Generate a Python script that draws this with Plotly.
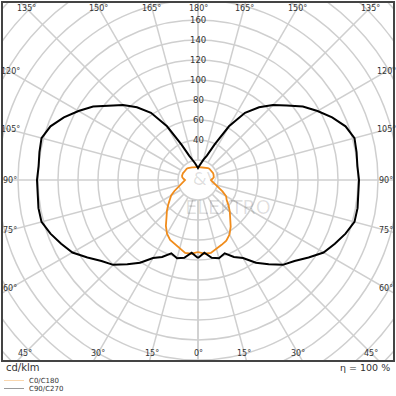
import numpy as np
import plotly.graph_objects as go

# ---------------- data (cd/klm) ----------------
gamma = [0, 5, 10, 15, 20, 25, 30, 35, 40, 45, 50, 55, 60, 65, 70, 75, 80, 85, 90,
         95, 100, 105, 110, 115, 120, 125, 130, 135, 140, 145, 150, 155, 160, 165, 170, 175, 180]

c90 = [78, 73, 79, 81, 78, 85, 90, 101, 110, 120, 126, 135, 145, 151, 157, 162, 162, 161, 161,
       160, 161, 162, 157, 148, 138, 128, 116, 106, 95, 82, 62, 39, 26, 21, 17, 14, 12]
c270 = [78, 73, 79, 81, 78, 85, 90, 101, 110, 120, 126, 135, 145, 151, 157, 162, 162, 161, 161,
        160, 161, 162, 157, 148, 138, 128, 116, 106, 95, 82, 62, 39, 26, 21, 17, 14, 12]

c0 = [72, 74, 74, 70.5, 68.5, 66, 62, 56, 49, 44, 39, 34, 31, 26, 21, 18, 16, 14, 13,
      14.5, 16, 16.5, 16.5, 16.5, 16, 16, 16, 16, 15.5, 15, 14.5, 14, 13.5, 13, 13, 13, 13]
c180 = [72, 74, 74, 71, 69, 67, 63, 57, 50, 45, 40, 35, 32.5, 27, 22, 18.5, 16, 14, 13,
        14.5, 16, 16.5, 16.5, 16.5, 16, 16, 16, 16, 15.5, 15, 14.5, 14, 13.5, 13, 13, 13, 13]

ring_values = list(range(20, 300, 20))
ring_labels = [40, 60, 80, 100, 120, 140, 160]
angle_ticks = list(range(0, 181, 15))

series_names = ["C0/C180", "C90/C270"]
unit_label = "cd/klm"
eta_label = "η = 100 %"
watermark = ["&V", "ELEKTRO"]

ORANGE = "#f08c1c"
GRID = "#cfcfcf"
TXT = "#333333"


def curve_xy(left_vals, right_vals):
    g = np.radians(np.array(gamma, dtype=float))
    lv = np.array(left_vals, dtype=float)
    rv = np.array(right_vals, dtype=float)
    xl, yl = -lv * np.sin(g), -lv * np.cos(g)
    xr, yr = rv * np.sin(g), -rv * np.cos(g)
    x = np.concatenate([xl, xr[::-1]])
    y = np.concatenate([yl, yr[::-1]])
    return x, y


fig = go.Figure()

# watermark (faint)
fig.add_trace(go.Scatter(x=[8, 30], y=[0, -29], mode="text", text=watermark,
                         textfont=dict(family="DejaVu Sans", size=[18, 19], color="rgba(0,0,0,0.13)"),
                         hoverinfo="skip", showlegend=False))

xo, yo = curve_xy(c0, c180)
fig.add_trace(go.Scatter(x=xo, y=yo, mode="lines", name=series_names[0],
                         line=dict(color=ORANGE, width=1.8), showlegend=False))
xb, yb = curve_xy(c90, c270)
fig.add_trace(go.Scatter(x=xb, y=yb, mode="lines", name=series_names[1],
                         line=dict(color="black", width=2), showlegend=False))

shapes = []
# rings
for r in ring_values:
    shapes.append(dict(type="circle", xref="x", yref="y", x0=-r, x1=r, y0=-r, y1=r,
                       line=dict(color=GRID, width=1.5), layer="below"))
# radial lines
r_in, r_out = ring_values[0], 400
for a in angle_ticks:
    t = np.radians(a)
    for s in (-1, 1):
        dx, dy = s * np.sin(t), -np.cos(t)
        shapes.append(dict(type="line", xref="x", yref="y",
                           x0=r_in * dx, y0=r_in * dy, x1=r_out * dx, y1=r_out * dy,
                           line=dict(color=GRID, width=1.5), layer="below"))
# frame
shapes.append(dict(type="rect", xref="paper", yref="paper", x0=0, x1=1, y0=0, y1=1,
                   line=dict(color="#444444", width=2)))

W, H = 396, 396
ML, MR, MT, MB = 2, 2, 2, 35
pw, ph = W - ML - MR, H - MT - MB


def px(sx):
    return (sx - ML) / pw


def py(sy):
    return (H - MB - sy) / ph


# legend lines (below plot)
shapes.append(dict(type="line", xref="paper", yref="paper", x0=px(4), x1=px(24), y0=py(380.5), y1=py(380.5),
                   line=dict(color="#f9d6ad", width=1)))
shapes.append(dict(type="line", xref="paper", yref="paper", x0=px(4), x1=px(24), y0=py(388.5), y1=py(388.5),
                   line=dict(color="#9a9a9a", width=1)))

ann = []
# radial value labels
for v in ring_labels:
    ann.append(dict(x=0, y=v, xref="x", yref="y", text=str(v), showarrow=False,
                    xanchor="center", yanchor="middle",
                    font=dict(family="DejaVu Sans", size=8.5, color=TXT)))
# angle labels along the frame
XL, YT, YB = 188, 172, 173
for a in angle_ticks:
    t = np.radians(a)
    sides = (-1, 1) if 0 < a < 180 else (1,)
    for s in sides:
        dx, dy = s * np.sin(t), -np.cos(t)
        cands = []
        if abs(dx) > 1e-9:
            cands.append(XL / abs(dx))
        if dy > 1e-9:
            cands.append(YT / dy)
        if dy < -1e-9:
            cands.append(YB / -dy)
        k = min(cands)
        ann.append(dict(x=k * dx, y=k * dy, xref="x", yref="y", text=f"{a}°", showarrow=False,
                        xanchor="center", yanchor="middle",
                        font=dict(family="DejaVu Sans", size=8, color=TXT)))

ann.append(dict(x=px(4), y=py(367.5), xref="paper", yref="paper", text=unit_label, showarrow=False,
                xanchor="left", yanchor="middle", font=dict(family="DejaVu Sans", size=10, color=TXT)))
ann.append(dict(x=px(392), y=py(367.5), xref="paper", yref="paper", text=eta_label, showarrow=False,
                xanchor="right", yanchor="middle", font=dict(family="DejaVu Sans", size=9.5, color=TXT)))
ann.append(dict(x=px(28), y=py(380.5), xref="paper", yref="paper", text=series_names[0], showarrow=False,
                xanchor="left", yanchor="middle", borderpad=0,
                font=dict(family="DejaVu Sans", size=7, color=TXT)))
ann.append(dict(x=px(28), y=py(389), xref="paper", yref="paper", text=series_names[1], showarrow=False,
                xanchor="left", yanchor="middle", borderpad=0,
                font=dict(family="DejaVu Sans", size=7, color=TXT)))

fig.update_layout(
    width=W, height=H, margin=dict(l=ML, r=MR, t=MT, b=MB, pad=0),
    paper_bgcolor="white", plot_bgcolor="white",
    xaxis=dict(range=[-196, 196], visible=False, fixedrange=True),
    yaxis=dict(range=[-181, 178], visible=False, fixedrange=True),
    shapes=shapes, annotations=ann, showlegend=False,
)

fig.write_html("out.html")
